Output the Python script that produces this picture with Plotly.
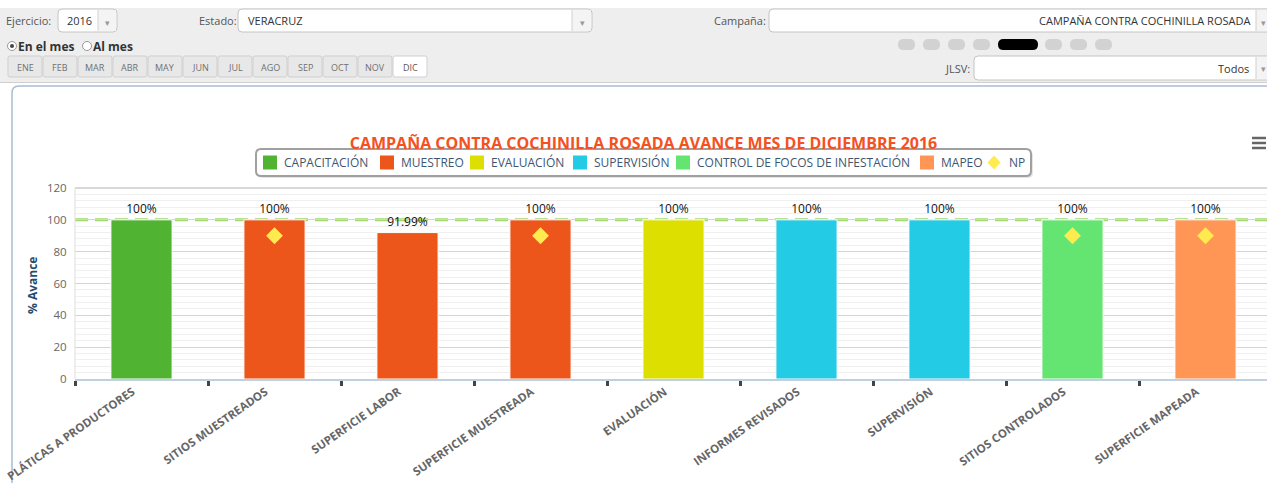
import plotly.graph_objects as go

# ---------------- data ----------------
categories = ["PLÁTICAS A PRODUCTORES", "SITIOS MUESTREADOS", "SUPERFICIE LABOR",
              "SUPERFICIE MUESTREADA", "EVALUACIÓN", "INFORMES REVISADOS",
              "SUPERVISIÓN", "SITIOS CONTROLADOS", "SUPERFICIE MAPEADA"]

capacitacion_cats = ["PLÁTICAS A PRODUCTORES"]
capacitacion_vals = [100]
muestreo_cats = ["SITIOS MUESTREADOS", "SUPERFICIE LABOR", "SUPERFICIE MUESTREADA"]
muestreo_vals = [100, 91.99, 100]
evaluacion_cats = ["EVALUACIÓN"]
evaluacion_vals = [100]
supervision_cats = ["INFORMES REVISADOS", "SUPERVISIÓN"]
supervision_vals = [100, 100]
control_cats = ["SITIOS CONTROLADOS"]
control_vals = [100]
mapeo_cats = ["SUPERFICIE MAPEADA"]
mapeo_vals = [100]
np_cats = ["SITIOS MUESTREADOS", "SUPERFICIE MUESTREADA", "SITIOS CONTROLADOS", "SUPERFICIE MAPEADA"]
np_vals = [90, 90, 90, 90]
meta_value = 100

series_names = ["CAPACITACIÓN", "MUESTREO", "EVALUACIÓN", "SUPERVISIÓN",
                "CONTROL DE FOCOS DE INFESTACIÓN", "MAPEO"]
np_name = "NP"

months = ["ENE", "FEB", "MAR", "ABR", "MAY", "JUN", "JUL", "AGO", "SEP", "OCT", "NOV", "DIC"]
selected_month = "DIC"

title_text = "CAMPAÑA CONTRA COCHINILLA ROSADA AVANCE MES DE DICIEMBRE 2016"

# ---------------- geometry helpers (pixel -> paper) ----------------
W, H = 1267, 483
L, R, T, B = 75, 1267, 188, 379


def X(px):
    return (px - L) / (R - L)


def Y(py):
    return (B - py) / (B - T)


FONT = "Open Sans, Verdana, sans-serif"
shapes = []
annotations = []


def rrect(x0, y0, x1, y1, r, fill, line="rgba(0,0,0,0)", lw=1, layer="below"):
    p = (f"M {X(x0 + r)},{Y(y0)} L {X(x1 - r)},{Y(y0)} Q {X(x1)},{Y(y0)} {X(x1)},{Y(y0 + r)} "
         f"L {X(x1)},{Y(y1 - r)} Q {X(x1)},{Y(y1)} {X(x1 - r)},{Y(y1)} "
         f"L {X(x0 + r)},{Y(y1)} Q {X(x0)},{Y(y1)} {X(x0)},{Y(y1 - r)} "
         f"L {X(x0)},{Y(y0 + r)} Q {X(x0)},{Y(y0)} {X(x0 + r)},{Y(y0)} Z")
    shapes.append(dict(type="path", xref="paper", yref="paper", path=p, fillcolor=fill,
                       line=dict(color=line, width=lw), layer=layer))


def rect(x0, y0, x1, y1, fill, line="rgba(0,0,0,0)", lw=1, layer="below"):
    shapes.append(dict(type="rect", xref="paper", yref="paper", x0=X(x0), x1=X(x1),
                       y0=Y(y1), y1=Y(y0), fillcolor=fill, line=dict(color=line, width=lw),
                       layer=layer))


def hline(x0, x1, y, color, w=1, layer="below"):
    shapes.append(dict(type="line", xref="paper", yref="paper", x0=X(x0), x1=X(x1),
                       y0=Y(y), y1=Y(y), line=dict(color=color, width=w), layer=layer))


def vline(x, y0, y1, color, w=1, layer="below"):
    shapes.append(dict(type="line", xref="paper", yref="paper", x0=X(x), x1=X(x),
                       y0=Y(y0), y1=Y(y1), line=dict(color=color, width=w), layer=layer))


def text(px, py, s, size=11, color="#333", xanchor="left", bold=False, angle=0, family=FONT):
    annotations.append(dict(xref="paper", yref="paper", x=X(px), y=Y(py), text=s,
                            showarrow=False, xanchor=xanchor, yanchor="middle",
                            textangle=angle, borderpad=0,
                            font=dict(size=size, color=color, family=family,
                                      weight="bold" if bold else "normal")))


# ---------------- page chrome (top controls) ----------------
rect(0, 8, 1267, 82, "#eeeeee")
hline(0, 1267, 82.5, "#cfcfcf", 1)

# Ejercicio
text(5, 20, "Ejercicio:", 11, "#555")
rrect(58, 9, 117, 32, 4, "#ffffff", "#c4c4c4", 1)
rect(98, 10, 116, 31, "#f4f4f4")
vline(98, 10, 31, "#d0d0d0")
text(66, 21, "2016", 11, "#333")
text(107, 22, "▾", 9, "#999", "center")

# Estado
text(198, 20, "Estado:", 11, "#555")
rrect(238, 9, 592, 32, 4, "#ffffff", "#c4c4c4", 1)
rect(572, 10, 591, 31, "#f4f4f4")
vline(572, 10, 31, "#d0d0d0")
text(247, 21, "VERACRUZ", 11, "#333")
text(582, 22, "▾", 9, "#999", "center")

# Campaña
text(767, 20, "Campaña:", 11, "#555", "right")
rrect(769, 9, 1280, 32, 4, "#ffffff", "#c4c4c4", 1)
rect(1256, 10, 1267, 31, "#f4f4f4")
vline(1256, 10, 31, "#d0d0d0")
text(1251, 21, "CAMPAÑA CONTRA COCHINILLA ROSADA", 11, "#333", "right")
text(1263, 22, "▾", 9, "#999", "center")

# radio buttons
for cx, lab, on in [(12, "En el mes", True), (87, "Al mes", False)]:
    shapes.append(dict(type="circle", xref="paper", yref="paper", x0=X(cx - 4.5), x1=X(cx + 4.5),
                       y0=Y(46 + 4.5), y1=Y(46 - 4.5), fillcolor="#ffffff",
                       line=dict(color="#999", width=1), layer="below"))
    if on:
        shapes.append(dict(type="circle", xref="paper", yref="paper", x0=X(cx - 2), x1=X(cx + 2),
                           y0=Y(46 + 2), y1=Y(46 - 2), fillcolor="#444",
                           line=dict(color="#444", width=0), layer="below"))
    text(cx + 5, 46, lab, 12, "#333", bold=True)

# month buttons
mx = 8
for m in months:
    w = 35
    sel = m == selected_month
    rrect(mx, 56, mx + w - 1, 77, 2, "#ffffff" if sel else "#e8e8e8", "#cfcfcf", 1)
    text(mx + (w - 1) / 2, 67, m, 9, "#555" if sel else "#707070", "center")
    mx += w

# pager pills
pills = [(898, 915), (923, 940), (948, 965), (973, 990), (998, 1038),
         (1045, 1062), (1070, 1087), (1095, 1112)]
for i, (a, b) in enumerate(pills):
    rrect(a, 39, b, 50, 5.5, "#000000" if i == 4 else "#d2d2d2", layer="below")

# JLSV
text(971, 68, "JLSV:", 11, "#555", "right")
rrect(974, 56, 1280, 80, 4, "#ffffff", "#c4c4c4", 1)
rect(1256, 57, 1267, 79, "#f4f4f4")
vline(1256, 57, 79, "#d0d0d0")
text(1250, 68, "Todos", 11, "#333", "right")
text(1263, 69, "▾", 9, "#999", "center")

# chart container
rrect(12, 86, 1290, 500, 7, "#ffffff", "#a9bdd3", 1.5)

# hamburger (export menu)
for yy in (138, 143, 148):
    hline(1252, 1266, yy, "#666", 2.5, layer="above")

# plot border (top/left)
hline(75, 1267, 188, "#cccccc", 1.5, layer="above")
vline(75, 188, 379, "#dddddd", 1, layer="above")

# target line at 100 %
shapes.append(dict(type="line", xref="paper", yref="y", x0=0, x1=1, y0=meta_value, y1=meta_value,
                   line=dict(color="#a3d873", width=3, dash="13px,7px"), layer="between"))

# y-axis title
text(32, 285, "% Avance", 12, "#274B6D", "center", bold=True, angle=-90)

# ---------------- legend (Highcharts-style box) ----------------
colors = ["#50B432", "#ED561B", "#DDDF00", "#24CBE5", "#64E572", "#FF9655"]
np_color = "#FFEA4F"
rrect(258, 151, 1033, 178, 5, "rgba(0,0,0,0.10)", layer="below")
rrect(256, 149, 1031, 176, 5, "#ffffff", "#a0a0a0", 2, layer="below")
leg_sym_x = [263, 380, 470, 573, 676, 920]
for sx, col, nm in zip(leg_sym_x, colors, series_names):
    rect(sx, 155.5, sx + 14, 169.5, col, layer="below")
    text(sx + 20, 162.5, nm, 12, "#3E576F")
dx = 994
shapes.append(dict(type="path", xref="paper", yref="paper", layer="below",
                   path=f"M {X(dx)},{Y(155.5)} L {X(dx + 6.5)},{Y(162.5)} L {X(dx)},{Y(169.5)} "
                        f"L {X(dx - 6.5)},{Y(162.5)} Z",
                   fillcolor=np_color, line=dict(width=0)))
text(1008, 162.5, np_name, 12, "#3E576F")

# ---------------- traces ----------------
fig = go.Figure()
BAR_W = 0.46
series = [
    (series_names[0], capacitacion_cats, capacitacion_vals, colors[0]),
    (series_names[1], muestreo_cats, muestreo_vals, colors[1]),
    (series_names[2], evaluacion_cats, evaluacion_vals, colors[2]),
    (series_names[3], supervision_cats, supervision_vals, colors[3]),
    (series_names[4], control_cats, control_vals, colors[4]),
    (series_names[5], mapeo_cats, mapeo_vals, colors[5]),
]
for name, cats, vals, col in series:
    fig.add_trace(go.Bar(
        name=name, x=cats, y=vals, width=[BAR_W] * len(cats),
        marker=dict(color=col, line=dict(color="#ffffff", width=1)),
        text=[f"{v:g}%" for v in vals], textposition="outside",
        textfont=dict(size=12, color="#111", family=FONT),
        cliponaxis=False, hoverinfo="x+y", showlegend=False,
    ))

fig.add_trace(go.Scatter(
    name=np_name, x=np_cats, y=np_vals, mode="markers", showlegend=False,
    marker=dict(symbol="diamond", size=13, color=np_color, line=dict(width=0)),
))

fig.update_layout(
    width=W, height=H, autosize=False,
    margin=dict(l=L, r=W - R, t=T, b=H - B, pad=0, autoexpand=False),
    paper_bgcolor="#ffffff", plot_bgcolor="rgba(0,0,0,0)",
    barmode="overlay",
    font=dict(family=FONT, color="#333"),
    title=dict(text=title_text, x=643.5 / W, xref="container", xanchor="center",
               y=1 - 143 / H, yref="container", yanchor="middle", automargin=False,
               font=dict(size=16, color="#F4511E", family=FONT, weight="bold")),
    showlegend=False,
    shapes=shapes, annotations=annotations,
    xaxis=dict(type="category", categoryorder="array", categoryarray=categories,
               range=[-0.5, 8.5 - 5 / 133], showgrid=False, zeroline=False,
               showline=True, linecolor="#C0D0E0", linewidth=1.5, automargin=False,
               ticks="outside", tickson="boundaries", ticklen=5, tickwidth=2.5,
               tickcolor="#444", tickangle=-35, ticklabelshift=-9,
               tickfont=dict(size=11.5, color="#666", family=FONT, weight="bold")),
    yaxis=dict(range=[0, 120], dtick=20, tick0=0, showgrid=True, gridcolor="#d4d4d4",
               gridwidth=1, zeroline=False, showline=False, automargin=False,
               ticks="outside", ticklen=5, tickcolor="rgba(0,0,0,0)",
               tickfont=dict(size=11.5, color="#666", family=FONT),
               minor=dict(dtick=4, showgrid=True, gridcolor="#efefef", gridwidth=1)),
)

fig.write_html("out.html", config={"displayModeBar": False},
               post_script="document.body.style.margin='0';document.body.style.overflow='hidden';")
